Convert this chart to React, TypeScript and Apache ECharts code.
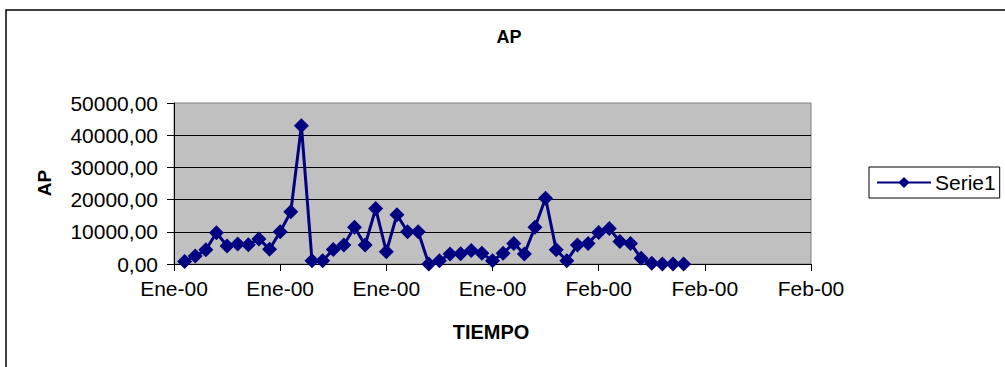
import React, { useEffect, useRef } from "react";
import * as echarts from "echarts";

const tickLabels = ["Ene-00", "Ene-00", "Ene-00", "Ene-00", "Feb-00", "Feb-00", "Feb-00"];
const dayIndex = [
  1, 2, 3, 4, 5, 6, 7, 8, 9, 10, 11, 12, 13, 14, 15, 16, 17, 18, 19, 20, 21, 22, 23, 24,
  25, 26, 27, 28, 29, 30, 31, 32, 33, 34, 35, 36, 37, 38, 39, 40, 41, 42, 43, 44, 45, 46, 47, 48,
];
const apValues = [
  800, 2500, 4400, 9700, 5600, 6200, 6000, 7800, 4600, 10000, 16200, 42900,
  1000, 1000, 4500, 5900, 11400, 5900, 17200, 3800, 15300, 10000, 10000, 0,
  1000, 3100, 3200, 4200, 3300, 1000, 3300, 6400, 3100, 11400, 20400, 4400,
  1000, 5900, 6400, 9800, 11000, 7000, 6400, 1800, 200, 0, 0, 0,
];
const seriesName = "Serie1";
const chartTitle = "AP";
const xName = "TIEMPO";
const yName = "AP";

const FONT = "'Liberation Sans', Arial, sans-serif";

export default function App() {
  const ref = useRef<HTMLDivElement>(null);
  useEffect(() => {
    if (!ref.current) return;
    const chart = echarts.init(ref.current, undefined, { renderer: "svg" });
    const data = dayIndex.map((d, i) => [d, apValues[i]]);
    chart.setOption({
      animation: false,
      backgroundColor: "#ffffff",
      textStyle: { fontFamily: FONT },
      grid: {
        left: 174,
        right: 194,
        top: 103,
        bottom: 103,
        show: true,
        backgroundColor: "#C0C0C0",
        borderColor: "#808080",
        borderWidth: 1,
      },
      xAxis: {
        type: "value",
        min: 0,
        max: 60,
        interval: 10,
        axisLine: { show: true, lineStyle: { color: "#000", width: 1 } },
        axisTick: { show: true, length: 7, lineStyle: { color: "#000" } },
        splitLine: { show: false },
        axisLabel: {
          color: "#000",
          fontSize: 21,
          fontFamily: FONT,
          margin: 14,
          formatter: (v: number) => tickLabels[Math.round(v / 10)] ?? "",
        },
      },
      yAxis: {
        type: "value",
        min: 0,
        max: 50000,
        interval: 10000,
        axisLine: { show: true, lineStyle: { color: "#000", width: 1 } },
        axisTick: { show: true, length: 7, lineStyle: { color: "#000" } },
        splitLine: { show: true, showMaxLine: false, lineStyle: { color: "#000", width: 1 } },
        axisLabel: {
          color: "#000",
          fontSize: 21,
          fontFamily: FONT,
          margin: 16,
          formatter: (v: number) => v.toFixed(2).replace(".", ","),
        },
      },
      legend: {
        show: true,
        left: 869,
        top: 167,
        orient: "vertical",
        padding: [5, 4, 5, 7],
        borderColor: "#000",
        borderWidth: 1,
        itemWidth: 54,
        itemHeight: 14,
        itemGap: 0,
        textStyle: { color: "#000", fontSize: 21, fontFamily: FONT, padding: [0, 0, 0, -1] },
        data: [{ name: seriesName }],
      },
      series: [
        {
          name: seriesName,
          type: "line",
          data,
          symbol: "diamond",
          symbolSize: 15,
          lineStyle: { color: "#000080", width: 3 },
          itemStyle: { color: "#000080" },
        },
      ],
      graphic: [
        {
          type: "rect",
          shape: { x: 6, y: 10, width: 1100, height: 500 },
          style: { fill: "none", stroke: "#000", lineWidth: 1.5 },
          silent: true,
        },
        {
          type: "text",
          x: 509,
          y: 37,
          style: {
            text: chartTitle,
            fontSize: 18,
            fontWeight: "bold",
            fontFamily: FONT,
            fill: "#000",
            align: "center",
            verticalAlign: "middle",
          },
        },
        {
          type: "text",
          x: 491,
          y: 332,
          style: {
            text: xName,
            fontSize: 20,
            fontWeight: "bold",
            fontFamily: FONT,
            fill: "#000",
            align: "center",
            verticalAlign: "middle",
          },
        },
        {
          type: "text",
          x: 44,
          y: 183,
          rotation: Math.PI / 2,
          style: {
            text: yName,
            fontSize: 19,
            fontWeight: "bold",
            fontFamily: FONT,
            fill: "#000",
            align: "center",
            verticalAlign: "middle",
          },
        },
      ],
    });
    return () => chart.dispose();
  }, []);
  return (
    <div
      ref={ref}
      style={{ position: "absolute", left: 0, top: 0, width: 1005, height: 367 }}
    />
  );
}
